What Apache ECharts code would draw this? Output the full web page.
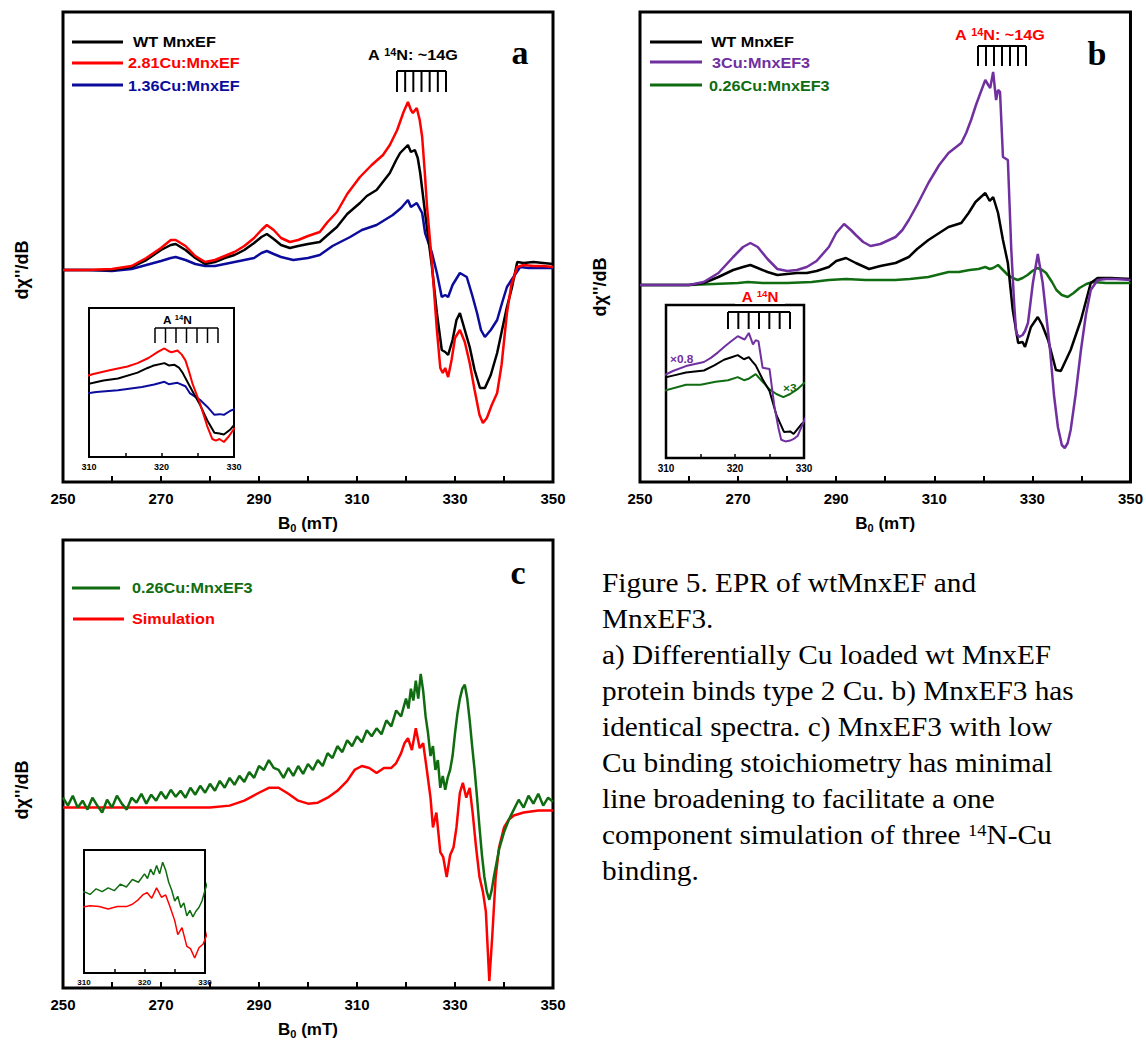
<!DOCTYPE html>
<html><head><meta charset="utf-8">
<script src="https://cdn.jsdelivr.net/npm/echarts@6/dist/echarts.min.js"></script>
<style>html,body{margin:0;padding:0;background:#fff}#c{width:1146px;height:1040px}</style>
</head><body><div id="c"></div>
<script>
// ---------- tick labels ----------
const fieldTicks = [250, 270, 290, 310, 330, 350];
const insetTicks = [310, 320, 330];

// ---------- panel a : [B0 (mT), dX''/dB (a.u.)] ----------
const wtA = [[250,0],[255,0],[260,0],[264,3],[267,10],[270,20],[272,25],[273,26],[275,20],[277,12],[279,6],[281,8],[283,12],[285,15],[287,20],[289,27],[290.5,33],[291.6,36],[293,31],[294.5,25],[296.3,22],[298,24],[300,26],[302.4,28],[304,35],[305.9,43],[308,56],[310.6,67],[312,74],[314,80],[316.7,97],[318,110],[318.8,117],[320.4,125],[321,118],[321.8,120],[322.4,112],[322.9,97],[323.9,57],[324.6,30],[325.3,3],[326.3,-43],[327.3,-80],[328,-82],[328.6,-85],[329.5,-70],[330.3,-50],[331,-43],[332,-60],[333,-77],[334,-100],[335.1,-118],[336.1,-118],[337.3,-105],[338.6,-83],[339.6,-60],[340.6,-37],[341.6,-18],[342.7,8],[344,7],[346,8],[348,7],[350,6]];
const cu281A = [[250,0],[255,0],[260,1],[264,4],[267,12],[270,22],[272,30],[273,30],[275,24],[277,14],[279,8],[281,10],[283,14],[285,18],[287,24],[289,32],[290.5,40],[291.6,45],[293,40],[294.5,32],[296.3,28],[298,30],[300,34],[302.4,38],[304,48],[305.9,58],[308,76],[310.6,93],[313,105],[315.3,115],[316.7,125],[318.2,140],[319.5,158],[320.4,168],[321,160],[321.4,157],[322.2,162],[322.8,150],[323.3,133],[323.8,100],[324.3,63],[325.3,7],[326.3,-60],[327,-98],[327.5,-103],[328,-98],[328.6,-107],[329.3,-90],[330,-68],[331,-60],[332,-72],[333,-93],[334,-120],[335,-145],[335.7,-153],[336.5,-148],[337.5,-135],[338.6,-123],[339.5,-95],[340.6,-43],[341.5,-15],[342.7,3],[344,5],[346,4],[348,4],[350,3]];
const cu136A = [[250,0],[255,0],[260,-1],[264,1],[267,5],[270,9],[272,12],[273,13],[275,10],[277,6],[279,4],[281,4],[283,6],[285,8],[287,10],[289,12],[290.5,17],[291.6,19],[293,16],[294.5,13],[297,10],[300,12],[302.4,15],[305,24],[308.6,33],[311,40],[314,45],[317.3,55],[319,62],[320.4,70],[321,63],[322.2,67],[323.3,57],[323.9,37],[325.3,17],[326.3,-3],[327.3,-27],[328,-25],[328.6,-27],[329.5,-15],[331,-3],[332.4,-7],[333.5,-25],[334.5,-43],[335.3,-60],[336.1,-67],[337.3,-60],[338.6,-50],[339.6,-33],[340.6,-17],[341.8,-8],[343.3,3],[345,2],[347,2],[350,2]];

// ---------- panel b ----------
const wtB = [[250,0],[255,0],[260,0],[263,2],[266,8],[269,15],[271,18],[272.5,20],[274,17],[276,13],[278,10],[280,11],[282,12],[284,12],[286,14],[288.5,18],[290,24],[292,27],[294,22],[296.7,16],[299,19],[302.1,22],[304.8,28],[306.5,36],[308.8,45],[311,52],[312.9,58],[315.5,62],[317,72],[318.4,83],[319.5,88],[320.4,92],[321.3,84],[322,88],[322.5,80],[323,72],[324,45],[325,22],[326,-25],[327.1,-58],[328,-57],[328.5,-62],[329.7,-42],[331.1,-32],[332,-40],[333.2,-55],[334,-70],[334.8,-85],[335.8,-86],[337.8,-65],[339.9,-35],[341.9,2],[343.3,7],[346,7],[350,6]];
const cu3B = [[250,0],[255,0],[260,0],[263,3],[266,12],[269,28],[271,38],[272.5,42],[274,38],[276,26],[278,16],[280,14],[282,15],[284,18],[286,24],[288.5,38],[290,52],[291.6,61],[293,55],[294,50],[295.5,43],[297,39],[299,41],[302.1,48],[303.5,55],[304.8,65],[306.5,80],[308.8,102],[311,120],[312.9,132],[315.5,142],[316.5,152],[317.5,165],[318.5,180],[319.4,192],[320.4,205],[321,200],[321.4,197],[322,213],[322.6,185],[323,195],[323.4,193],[324,128],[325,125],[325.7,35],[326.3,-20],[326.7,-48],[327.3,-52],[328,-50],[328.5,-46],[329.1,-38],[330.1,2],[331.1,31],[332.1,2],[333.6,-65],[334.4,-110],[335.2,-142],[336,-160],[336.6,-163],[337.2,-158],[337.8,-145],[338.8,-110],[339.9,-65],[340.9,-30],[341.9,-5],[343.3,5],[345,6],[347,6],[350,5]];
const cu026B = [[250,0],[260,0],[265,1],[270,2],[272,3],[275,2],[280,2],[285,3],[288.5,5],[292,6],[296,5],[302,5],[305,6],[308.8,8],[312.9,13],[315,13],[317.2,15],[319,16],[320.4,18],[321.3,16],[322,17],[323,20],[324,15],[325,10],[326,7],[327,5],[328,7],[329,10],[330,14],[331,17],[332,15],[332.8,12],[334,3],[334.9,-5],[336,-10],[337.2,-12],[338.4,-8],[339.6,-3],[341,1],[342.3,3],[345,2],[350,2]];
// inset b display factors (as printed: x0.8, x3) and baseline shifts
const insetGainB = {purple: 0.8, green: 3};
const insetShiftB = {purple: -35, green: -5};

// ---------- panel c ----------
const cu026C = [[250,10],[251,2],[252,12],[253,0],[254,7],[255,-2],[256,10],[257,2],[258,-5],[259,8],[260,0],[261,12],[262,4],[263,-2],[264,10],[265,5],[266,14],[267,4],[268,13],[269,7],[270,16],[271,9],[272,18],[273,11],[274,17],[275,10],[276,20],[277,13],[278,22],[279,15],[280,24],[281,17],[282,27],[283,20],[284,30],[285,23],[286,32],[287,26],[288,36],[289,30],[290,42],[291,38],[292,48],[293,40],[294,38],[295,30],[296,40],[297,32],[298,42],[299,34],[300,44],[301,38],[302,48],[303,42],[304,55],[305,50],[306,62],[307,56],[308,68],[309,62],[310,72],[311,66],[312,78],[313,72],[314,80],[315,74],[316,88],[317,82],[318,98],[319,92],[320,110],[320.5,100],[321,120],[321.5,108],[322,128],[322.5,110],[323,135],[323.5,118],[324,92],[324.5,75],[325,52],[325.5,62],[326,38],[326.5,48],[327,20],[327.5,32],[328,18],[328.5,30],[329,38],[329.5,52],[330,75],[330.5,95],[331,110],[331.5,120],[332,124],[332.5,110],[333,88],[333.5,62],[334,38],[334.5,10],[335,-20],[335.5,-48],[336,-70],[336.5,-85],[337,-93],[337.5,-83],[338,-68],[338.5,-55],[339,-42],[340,-25],[341,-12],[342,-2],[343,8],[344,0],[345,12],[346,4],[347,14],[348,2],[349,10],[350,6]];
const simC = [[250,0],[260,0],[270,0],[280,0],[284,2],[287,7],[290,15],[292,20],[294,20],[296,14],[298,7],[300,4],[302,5],[304,10],[306,17],[308,27],[309.5,38],[311,42],[312.5,40],[314,35],[315.5,40],[317,40],[318,45],[319,55],[319.7,65],[320.4,70],[321.2,58],[322,80],[322.8,60],[323.5,65],[324.2,40],[325,10],[325.5,-20],[326.2,-5],[327,-45],[327.6,-50],[328.3,-70],[329,-48],[329.7,-40],[330.3,-20],[331,15],[331.6,25],[332.3,10],[333,20],[333.6,-5],[334.3,-40],[335,-70],[335.7,-85],[336.3,-105],[337,-175],[337.6,-130],[338.3,-70],[339,-40],[340,-20],[341,-12],[342,-8],[344,-5],[347,-3],[350,-3]];

const captionLines = [
  'Figure 5. EPR of wtMnxEF and',
  'MnxEF3.',
  'a) Differentially Cu loaded wt MnxEF',
  'protein binds type 2 Cu. b) MnxEF3 has',
  'identical spectra. c) MnxEF3 with low',
  'Cu binding stoichiometry has minimal',
  'line broadening to facilitate a one',
  '{n|component simulation of three }{sup|14}{n|N-Cu}',
  'binding.'
];

// ---------- colours ----------
const C = {black:'#000000', red:'#ff0000', blue:'#0c0c9c', purple:'#7030a0', green:'#106c10'};
const SANS = "'Liberation Sans', Arial, sans-serif";
const SERIF = "'Liberation Serif', 'Times New Roman', serif";

const chart = echarts.init(document.getElementById('c'), null, {renderer:'svg', width:1146, height:1040});

function grid(left, top, width, height, bw, z){
  return {left, top, width, height, show:true, borderColor:'#000', borderWidth:bw, backgroundColor:'#fff', containLabel:false, z:z||0};
}
function xAx(gi, main, fs){
  if (main) {
    return {type:'value', gridIndex:gi, min:250, max:350, interval:10, z:10,
      axisLine:{show:false, onZero:false}, splitLine:{show:false},
      axisTick:{show:true, inside:true, length:6, lineStyle:{color:'#000', width:2}},
      axisLabel:{formatter:v => fieldTicks.includes(v) ? String(v) : '', showMinLabel:true, showMaxLabel:true, hideOverlap:false,
        fontFamily:SANS, fontWeight:'bold', fontSize:15, color:'#000', margin:9},
      name:'{b|B}{s|0}{b| (mT)}', nameLocation:'middle', nameGap:32,
      nameTextStyle:{rich:{b:{fontFamily:SANS, fontWeight:'bold', fontSize:17, color:'#000'},
                          s:{fontFamily:SANS, fontWeight:'bold', fontSize:11, color:'#000', verticalAlign:'bottom', padding:[8,0,0,0]}}}
    };
  }
  return {type:'value', gridIndex:gi, min:310, max:330, interval:5, z:10,
    axisLine:{show:false, onZero:false}, splitLine:{show:false},
    axisTick:{show:true, inside:true, length:4, lineStyle:{color:'#000', width:1.5}},
    axisLabel:{formatter:v => insetTicks.includes(v) ? String(v) : '', showMinLabel:true, showMaxLabel:true, hideOverlap:false,
      fontFamily:SANS, fontWeight:'bold', fontSize:fs, color:'#000', margin:5}};
}
function yAx(gi, min, max){ return {type:'value', gridIndex:gi, min, max, show:false}; }
function ln(i, data, color, w, z){
  return {type:'line', xAxisIndex:i, yAxisIndex:i, data, showSymbol:false, symbol:'none', smooth:false,
    lineStyle:{color, width:w}, itemStyle:{color}, z:z||2, silent:true, animation:false, clip:true};
}

// graphic helpers
function T(x, y, text, o){
  o = o || {};
  const st = {text, fill:o.color||'#000', fontFamily:o.family||SANS, fontWeight:o.weight||'bold', fontSize:o.size||15,
    align:o.align||'left', verticalAlign:'middle'};
  if (o.rich) st.rich = o.rich;
  if (o.bg) { st.backgroundColor = o.bg; st.padding = o.pad || [0,3]; }
  return {type:'text', x, y, scaleX:o.sx||1.08, rotation:o.rot||0, style:st, z:100, silent:true};
}
function L(x1, y1, x2, y2, color, w){
  return {type:'line', shape:{x1, y1, x2, y2}, style:{stroke:color, lineWidth:w}, z:100, silent:true};
}
function comb(x0, x1, y, h, n, w){
  const els = [L(x0, y, x1, y, '#000', w)];
  for (let i = 0; i < n; i++) { const x = x0 + (x1 - x0) * i / (n - 1); els.push(L(x, y, x, y + h, '#000', w)); }
  return els;
}
function supRich(size, color){
  return {n:{fontFamily:SANS, fontWeight:'bold', fontSize:size, fill:color},
          sup:{fontFamily:SANS, fontWeight:'bold', fontSize:Math.round(size*0.65), fill:color, verticalAlign:'top'}};
}

const ylab = "dχ''/dB";
const graphic = [
  // y-axis titles
  T(22, 270, ylab, {rot:Math.PI/2, align:'center', size:18, sx:1}),
  T(600, 287, ylab, {rot:Math.PI/2, align:'center', size:18, sx:1}),
  T(22, 790, ylab, {rot:Math.PI/2, align:'center', size:18, sx:1}),
  // panel letters
  T(520, 52, 'a', {family:SERIF, size:34, align:'center', sx:1}),
  T(1097, 53, 'b', {family:SERIF, size:34, align:'center', sx:1}),
  T(518, 572, 'c', {family:SERIF, size:34, align:'center', sx:1}),
  // legend a
  L(72, 42, 123, 42, C.black, 3), T(133, 42, 'WT MnxEF'),
  L(72, 63, 123, 63, C.red, 3), T(128, 63, '2.81Cu:MnxEF', {color:C.red}),
  L(72, 85, 123, 85, C.blue, 3), T(128, 86, '1.36Cu:MnxEF', {color:C.blue}),
  // legend b
  L(650, 42, 702, 42, C.black, 3), T(711, 42, 'WT MnxEF'),
  L(650, 62, 702, 62, C.purple, 3), T(712, 63, '3Cu:MnxEF3', {color:C.purple}),
  L(650, 85, 702, 85, C.green, 3), T(709, 86, '0.26Cu:MnxEF3', {color:C.green}),
  // legend c
  L(72, 588, 120, 588, C.green, 3), T(132, 588, '0.26Cu:MnxEF3', {color:C.green}),
  L(73, 619, 124, 619, C.red, 3), T(132, 619, 'Simulation', {color:C.red}),
  // hyperfine labels
  T(368, 55, '{n|A }{sup|14}{n|N: ~14G}', {rich:supRich(15, '#000')}),
  ...comb(397, 446, 71, 21, 7, 2),
  T(955, 35, '{n|A }{sup|14}{n|N: ~14G}', {rich:supRich(15, C.red), color:C.red}),
  ...comb(978, 1026, 46, 20, 7, 2),
  // inset a
  T(163, 320, '{n|A }{sup|14}{n|N}', {rich:supRich(11, '#000')}),
  ...comb(155, 218, 328, 15, 7, 1.5),
  // inset b
  T(760, 297, '{n|A }{sup|14}{n|N}', {rich:supRich(14, C.red), color:C.red, align:'center', bg:'#fff', pad:[0,6]}),
  ...comb(728, 790, 312, 17, 7, 2),
  T(670, 359, '×0.8', {color:C.purple, size:11}),
  T(783, 388, '×3', {color:C.green, size:11}),
];
captionLines.forEach((s, i) => {
  graphic.push(T(602, 583 + i * 36, s, {family:SERIF, weight:'normal', size:27, sx:1.085,
    rich:{n:{fontFamily:SERIF, fontSize:27, fill:'#000'}, sup:{fontFamily:SERIF, fontSize:17, fill:'#000', verticalAlign:'top'}}}));
});

const option = {
  animation:false,
  backgroundColor:'#fff',
  grid:[
    grid(63, 12, 490, 470, 3),      // 0 panel a
    grid(640, 12, 493, 470, 3),     // 1 panel b
    grid(63, 540, 490, 452, 3),     // 2 panel c
    grid(89, 308, 145, 149, 2, 3),  // 3 inset a
    grid(666, 305, 138, 153, 2.5, 3), // 4 inset b
    grid(84, 850, 121, 123, 2, 3)   // 5 inset c
  ],
  xAxis:[xAx(0,true), xAx(1,true), xAx(2,true), xAx(3,false,9), xAx(4,false,10), xAx(5,false,8)],
  yAxis:[yAx(0,-212,258), yAx(1,-197,273), yAx(2,-182,270), yAx(3,-151,287), yAx(4,-109,190), yAx(5,-102,161)],
  series:[
    ln(0, cu136A, C.blue, 2.5), ln(0, wtA, C.black, 2.5), ln(0, cu281A, C.red, 2.5),
    ln(1, cu026B, C.green, 2.5), ln(1, wtB, C.black, 2.5), ln(1, cu3B, C.purple, 2.5),
    ln(2, simC, C.red, 2.5), ln(2, cu026C, C.green, 2.5),
    ln(3, cu136A, C.blue, 2, 5), ln(3, wtA, C.black, 2, 5), ln(3, cu281A, C.red, 2, 5),
    ln(4, cu026B.map(p => [p[0], p[1]*insetGainB.green + insetShiftB.green]), C.green, 2, 5),
    ln(4, wtB, C.black, 2, 5),
    ln(4, cu3B.map(p => [p[0], p[1]*insetGainB.purple + insetShiftB.purple]), C.purple, 2, 5),
    ln(5, simC, C.red, 1.5, 5), ln(5, cu026C, C.green, 1.5, 5)
  ],
  graphic
};
chart.setOption(option);
</script></body></html>
